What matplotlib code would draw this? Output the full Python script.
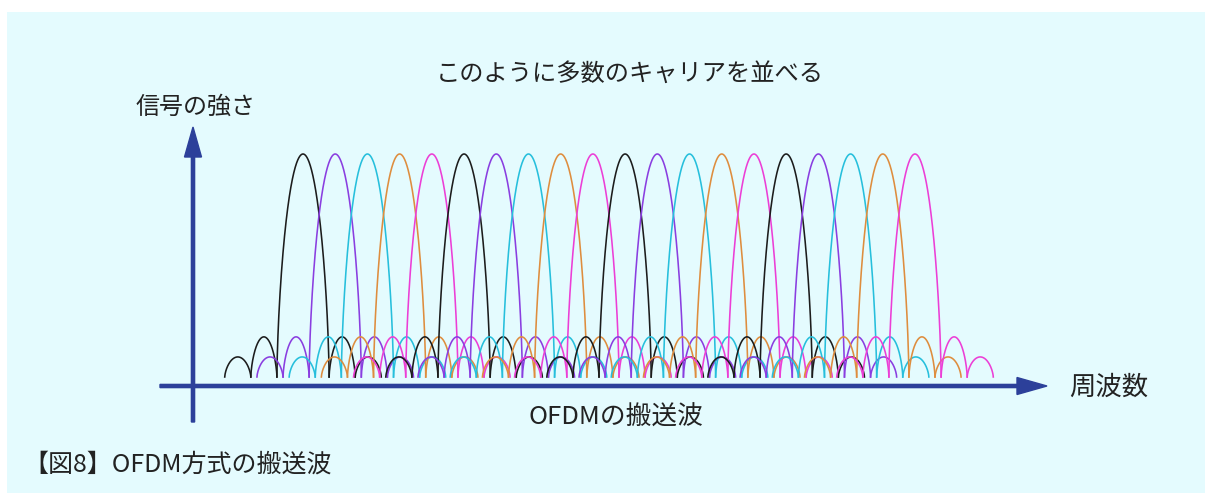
import numpy as np
import matplotlib
matplotlib.use("Agg")
import matplotlib.pyplot as plt
from matplotlib.patches import Rectangle, FancyArrow

plt.rcParams['font.family'] = ['Noto Sans CJK JP', 'DejaVu Sans']

# ---- data ----
carrier_centers = list(range(1, 21))          # subcarrier positions (carrier spacing units)
carrier_colors = ['#1c1c1c', '#8a3ee0', '#26bfdc', '#de8d3e', '#ec3ed6']
lobe_heights = [1.0, 0.18, 0.09]              # main lobe, 1st and 2nd sidelobe heights
lobe_width = 0.81                             # lobe width (zero to zero of a sidelobe), spacing units

title = 'このように多数のキャリアを並べる'
ylabel = '信号の強さ'
xlabel = '周波数'
subtitle = 'OFDMの搬送波'
caption = '【図8】OFDM方式の搬送波'

W, H = 1205, 493
fig = plt.figure(figsize=(W / 100, H / 100), dpi=100)

# overlay in pixel coordinates for decoration
ov = fig.add_axes([0, 0, 1, 1])
ov.set_xlim(0, W)
ov.set_ylim(H, 0)
ov.axis('off')
ov.add_patch(Rectangle((7, 12), W - 7, H - 12, facecolor='#e4fbfe', edgecolor='none', zorder=0))

axis_col = '#2c409a'
ov.add_patch(FancyArrow(160, 386, 1047 - 160, 0, width=3.2, head_width=17, head_length=30,
                        length_includes_head=True, color=axis_col, zorder=5))
ov.add_patch(FancyArrow(193, 422, 0, 127 - 422, width=3.2, head_width=17, head_length=30,
                        length_includes_head=True, color=axis_col, zorder=5))

tc = '#222222'
ov.text(630, 74, title, fontsize=17.5, color=tc, ha='center', va='center')
ov.text(196, 107, ylabel, fontsize=17.3, color=tc, ha='center', va='center')
ov.text(1109, 387, xlabel, fontsize=19, color=tc, ha='center', va='center')
ov.text(616, 418, subtitle, fontsize=18.5, color=tc, ha='center', va='center')
ov.text(23, 465, caption, fontsize=18, color=tc, ha='left', va='center')

# carrier plot axes
ax = fig.add_axes([0, 0, 1, 1])
ax.patch.set_alpha(0)
ax.axis('off')
x0_px, x1_px = 303, 915
s = (x1_px - x0_px) / (carrier_centers[-1] - carrier_centers[0])
ax.set_xlim(carrier_centers[0] - x0_px / s, carrier_centers[0] + (W - x0_px) / s)
base_px, peak_px = 377, 154
u = base_px - peak_px
ax.set_ylim(-(H - base_px) / u, base_px / u)


def arch(t):
    return np.clip(1 - t ** 2, 0, None) ** 0.66


for i, c in enumerate(carrier_centers):
    col = carrier_colors[i % len(carrier_colors)]
    t = np.linspace(-1, 1, 301)
    ax.plot(c + t * lobe_width, lobe_heights[0] * arch(t), color=col, lw=1.15, zorder=3)
    for k, h in enumerate(lobe_heights[1:], start=1):
        for sgn in (-1, 1):
            centre = sgn * (lobe_width * (1 + 2 * k) / 2)
            tt = np.linspace(-1, 1, 151)
            ax.plot(c + centre + tt * lobe_width / 2, h * arch(tt), color=col, lw=1.15, zorder=3)

fig.savefig('out.png', dpi=100)
